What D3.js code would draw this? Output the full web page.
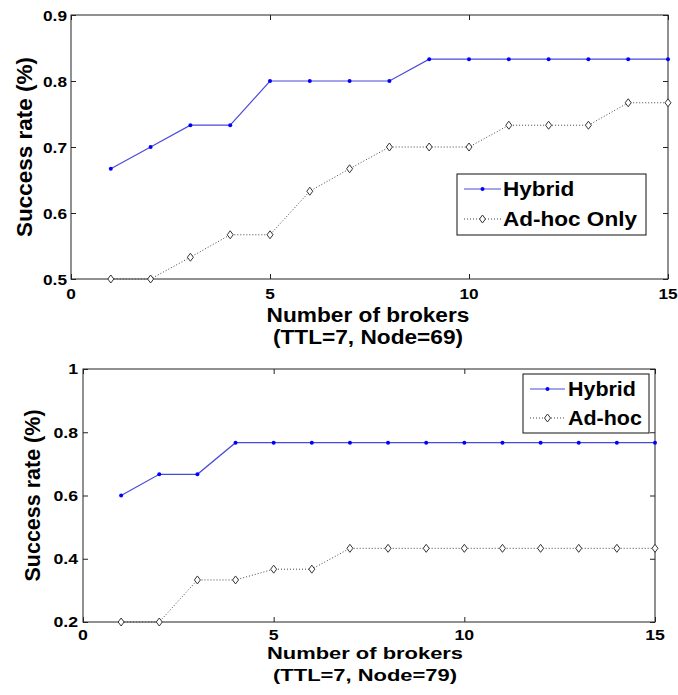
<!DOCTYPE html>
<html>
<head>
<meta charset="utf-8">
<script src="https://cdn.jsdelivr.net/npm/d3@7.9.0/dist/d3.min.js"></script>
<style>
  body { margin: 0; background: #fff; }
  svg text { font-family: "Liberation Sans", Arial, Helvetica, sans-serif; font-weight: bold; fill: #000; }
</style>
</head>
<body>
<svg id="chart" width="678" height="695"></svg>
<script>
// Data
const brokers = [1, 2, 3, 4, 5, 6, 7, 8, 9, 10, 11, 12, 13, 14, 15];

const hybridTop = [0.667, 0.700, 0.733, 0.733, 0.800, 0.800, 0.800, 0.800, 0.833, 0.833, 0.833, 0.833, 0.833, 0.833, 0.833];
const adhocTop  = [0.500, 0.500, 0.533, 0.567, 0.567, 0.633, 0.667, 0.700, 0.700, 0.700, 0.733, 0.733, 0.733, 0.767, 0.767];

const hybridBottom = [0.600, 0.667, 0.667, 0.767, 0.767, 0.767, 0.767, 0.767, 0.767, 0.767, 0.767, 0.767, 0.767, 0.767, 0.767];
const adhocBottom  = [0.200, 0.200, 0.333, 0.333, 0.367, 0.367, 0.433, 0.433, 0.433, 0.433, 0.433, 0.433, 0.433, 0.433, 0.433];

const xTicks = [0, 5, 10, 15];
const xTickLabels = ['0', '5', '10', '15'];
const yTicksTop = [0.5, 0.6, 0.7, 0.8, 0.9];
const yTickLabelsTop = ['0.5', '0.6', '0.7', '0.8', '0.9'];
const yTicksBottom = [0.2, 0.4, 0.6, 0.8, 1];
const yTickLabelsBottom = ['0.2', '0.4', '0.6', '0.8', '1'];

const xTitle = 'Number of brokers';
const yTitle = 'Success rate (%)';

const svg = d3.select('#chart');

// Text that is a bit wider than the font draws (matlab export stretch)
function stretchedText(g, x, y, str, size, sx, anchor) {
  return g.append('text')
    .attr('transform', `translate(${x},${y}) scale(${sx},1)`)
    .attr('text-anchor', anchor)
    .style('font-size', size + 'px')
    .text(str);
}

function drawPanel(p) {
  const g = svg.append('g');
  const x = d3.scaleLinear().domain([0, 15]).range([p.left, p.right]);
  const y = d3.scaleLinear().domain(p.yDomain).range([p.bottom, p.top]);

  // box
  g.append('rect')
    .attr('x', p.left).attr('y', p.top)
    .attr('width', p.right - p.left).attr('height', p.bottom - p.top)
    .attr('fill', 'none').attr('stroke', '#222').attr('stroke-width', 1);

  // inward ticks on all four sides
  const tickLen = 5;
  const axes = [
    [d3.axisBottom(x).tickValues(xTicks), `translate(0,${p.bottom})`],
    [d3.axisTop(x).tickValues(xTicks), `translate(0,${p.top})`],
    [d3.axisLeft(y).tickValues(p.yTicks), `translate(${p.left},0)`],
    [d3.axisRight(y).tickValues(p.yTicks), `translate(${p.right},0)`]
  ];
  axes.forEach(([ax, tr]) => {
    const a = g.append('g').attr('transform', tr)
      .call(ax.tickSize(-tickLen).tickFormat(''));
    a.select('.domain').remove();
    a.selectAll('line').attr('stroke', '#222');
  });

  // tick labels
  xTicks.forEach((t, i) => {
    stretchedText(g, x(t), p.xLabelBase, xTickLabels[i], p.tickSize, p.tickSx, 'middle');
  });
  p.yTicks.forEach((t, i) => {
    stretchedText(g, p.left - p.yLabelGap, y(t) + p.tickSize * 0.37, p.yTickLabels[i], p.tickSize, p.tickSx, 'end');
  });

  // axis titles
  stretchedText(g, p.titleX, p.title1Base, xTitle, p.titleSize, p.titleSx, 'middle');
  stretchedText(g, p.titleX, p.title2Base, p.subtitle, p.titleSize, p.titleSx, 'middle');
  g.append('text')
    .attr('transform', `translate(${p.yTitleX},${(p.top + p.bottom) / 2}) rotate(-90)`)
    .attr('text-anchor', 'middle')
    .style('font-size', p.yTitleSize + 'px')
    .text(yTitle);

  // series
  const line = d3.line().x(d => x(d[0])).y(d => y(d[1]));
  const hyb = brokers.map((b, i) => [b, p.hybrid[i]]);
  const adh = brokers.map((b, i) => [b, p.adhoc[i]]);

  g.append('path').datum(adh).attr('d', line)
    .attr('fill', 'none').attr('stroke', '#444').attr('stroke-width', 1)
    .attr('stroke-dasharray', '1,2');
  g.append('path').datum(hyb).attr('d', line)
    .attr('fill', 'none').attr('stroke', '#4a4ad8').attr('stroke-width', 1.2);

  const diamond = (cx, cy) => `M${cx},${cy - 4}L${cx + 3},${cy}L${cx},${cy + 4}L${cx - 3},${cy}Z`;

  g.selectAll('.adh').data(adh).join('path').attr('class', 'adh')
    .attr('d', d => diamond(x(d[0]), y(d[1])))
    .attr('fill', '#fff').attr('stroke', '#333').attr('stroke-width', 1);
  g.selectAll('.hyb').data(hyb).join('circle').attr('class', 'hyb')
    .attr('cx', d => x(d[0])).attr('cy', d => y(d[1])).attr('r', 2)
    .attr('fill', '#0000ff');

  // legend
  const L = p.legend;
  g.append('rect').attr('x', L.x0).attr('y', L.y0)
    .attr('width', L.x1 - L.x0).attr('height', L.y1 - L.y0)
    .attr('fill', '#fff').attr('stroke', '#111').attr('stroke-width', 1);
  const mid = (L.s0 + L.s1) / 2;
  g.append('line').attr('x1', L.s0).attr('x2', L.s1).attr('y1', L.r1).attr('y2', L.r1)
    .attr('stroke', '#4a4ad8').attr('stroke-width', 1.2);
  g.append('circle').attr('cx', mid).attr('cy', L.r1).attr('r', 2).attr('fill', '#0000ff');
  g.append('line').attr('x1', L.s0).attr('x2', L.s1).attr('y1', L.r2).attr('y2', L.r2)
    .attr('stroke', '#444').attr('stroke-width', 1).attr('stroke-dasharray', '1,2');
  g.append('path').attr('d', diamond(mid, L.r2))
    .attr('fill', '#fff').attr('stroke', '#333').attr('stroke-width', 1);
  stretchedText(g, L.tx, L.r1 + L.size * 0.36, 'Hybrid', L.size, L.sx, 'start');
  stretchedText(g, L.tx, L.r2 + L.size * 0.36, p.adhocName, L.size, L.sx, 'start');
}

drawPanel({
  left: 71, right: 668, top: 15, bottom: 279,
  yDomain: [0.5, 0.9], yTicks: yTicksTop, yTickLabels: yTickLabelsTop,
  hybrid: hybridTop, adhoc: adhocTop, adhocName: 'Ad-hoc Only',
  tickSize: 15, tickSx: 1.15, xLabelBase: 299, yLabelGap: 4,
  titleX: 368, title1Base: 322, title2Base: 344, titleSize: 21, titleSx: 1.08,
  subtitle: '(TTL=7, Node=69)',
  yTitleX: 32, yTitleSize: 22.5,
  legend: { x0: 457, x1: 646, y0: 174, y1: 235, s0: 464, s1: 501, r1: 189, r2: 219, tx: 503, size: 20.5, sx: 1.1 }
});

drawPanel({
  left: 83, right: 655, top: 369, bottom: 622,
  yDomain: [0.2, 1], yTicks: yTicksBottom, yTickLabels: yTickLabelsBottom,
  hybrid: hybridBottom, adhoc: adhocBottom, adhocName: 'Ad-hoc',
  tickSize: 14.5, tickSx: 1.22, xLabelBase: 640, yLabelGap: 5,
  titleX: 365, title1Base: 659, title2Base: 681, titleSize: 17, titleSx: 1.29,
  subtitle: '(TTL=7, Node=79)',
  yTitleX: 40, yTitleSize: 21.5,
  legend: { x0: 523, x1: 649, y0: 374, y1: 433, s0: 530, s1: 565, r1: 389, r2: 418, tx: 568, size: 19.5, sx: 1.1 }
});
</script>
</body>
</html>
